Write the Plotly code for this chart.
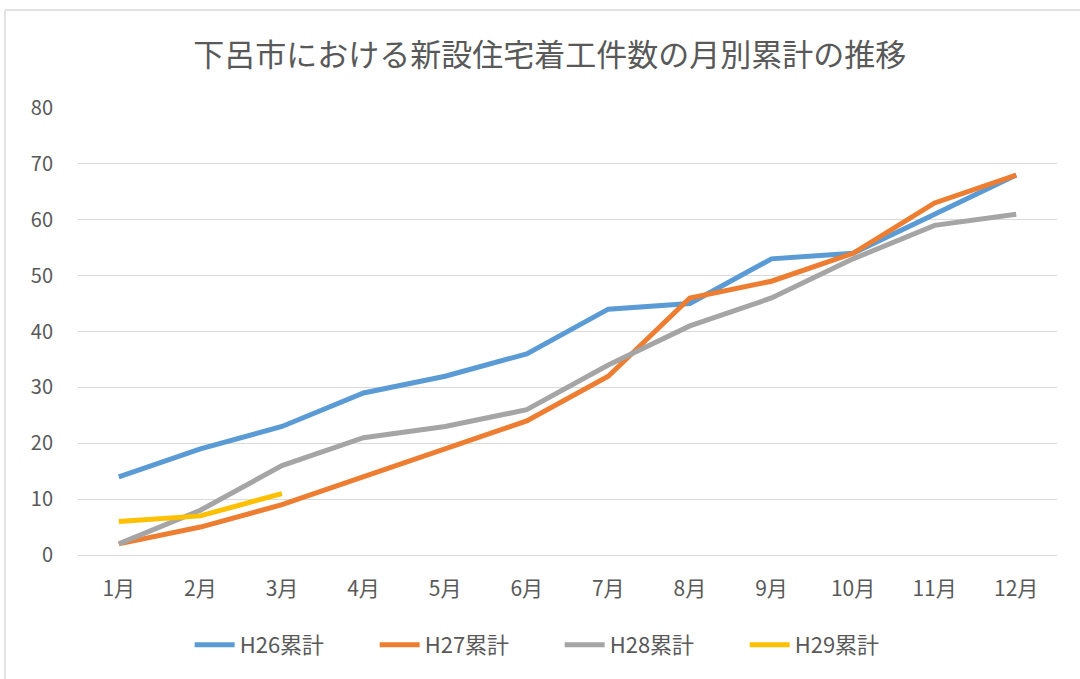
import plotly.graph_objects as go

months = ["1月", "2月", "3月", "4月", "5月", "6月", "7月", "8月", "9月", "10月", "11月", "12月"]
h26 = [14, 19, 23, 29, 32, 36, 44, 45, 53, 54, 61, 68]
h27 = [2, 5, 9, 14, 19, 24, 32, 46, 49, 54, 63, 68]
h28 = [2, 8, 16, 21, 23, 26, 34, 41, 46, 53, 59, 61]
h29 = [6, 7, 11]

series = [
    ("H26累計", h26, "#5B9BD5"),
    ("H27累計", h27, "#ED7D31"),
    ("H28累計", h28, "#A5A5A5"),
    ("H29累計", h29, "#FFC000"),
]

font_family = "Noto Sans CJK JP, Noto Sans, sans-serif"
fig = go.Figure()
for name, vals, color in series:
    fig.add_trace(go.Scatter(
        x=months[:len(vals)], y=vals, name=name, mode="lines",
        line=dict(color=color, width=5, shape="linear"),
    ))

fig.update_layout(
    width=1080, height=679,
    paper_bgcolor="white", plot_bgcolor="white",
    margin=dict(l=78, r=23, t=108, b=124),
    title=dict(text="下呂市における新設住宅着工件数の月別累計の推移",
               x=0.509, xanchor="center", y=0.919, yanchor="middle",
               font=dict(family=font_family, size=31, color="#595959")),
    font=dict(family=font_family, size=20, color="#595959"),
    showlegend=True,
    legend=dict(orientation="h", x=0.492, xanchor="center", y=-0.201, yanchor="middle",
                font=dict(size=22, color="#595959"), itemwidth=40,
                entrywidth=130, entrywidthmode="pixels",
                traceorder="normal"),
    xaxis=dict(showgrid=False, showline=False, ticks="", tickfont=dict(size=21, color="#595959"),
               range=[-0.5, 11.5], ticklabelstandoff=19),
    yaxis=dict(range=[0, 80], dtick=10, showgrid=True, gridcolor="#D9D9D9", gridwidth=1,
               zeroline=True, zerolinecolor="#D9D9D9", zerolinewidth=1,
               ticks="", tickfont=dict(size=20, color="#595959"), ticklabelstandoff=24),
    shapes=[
        dict(type="line", xref="paper", yref="paper", x0=-0.0746, x1=1.1, y0=1.219, y1=1.219,
             line=dict(color="#D9D9D9", width=1.5)),
        dict(type="line", xref="paper", yref="paper", x0=-0.0746, x1=-0.0746, y0=1.219, y1=-0.3,
             line=dict(color="#D9D9D9", width=1.5)),
    ],
)

fig.write_html("out.html", post_script="document.body.style.margin='0';",
               config={"displayModeBar": False})
